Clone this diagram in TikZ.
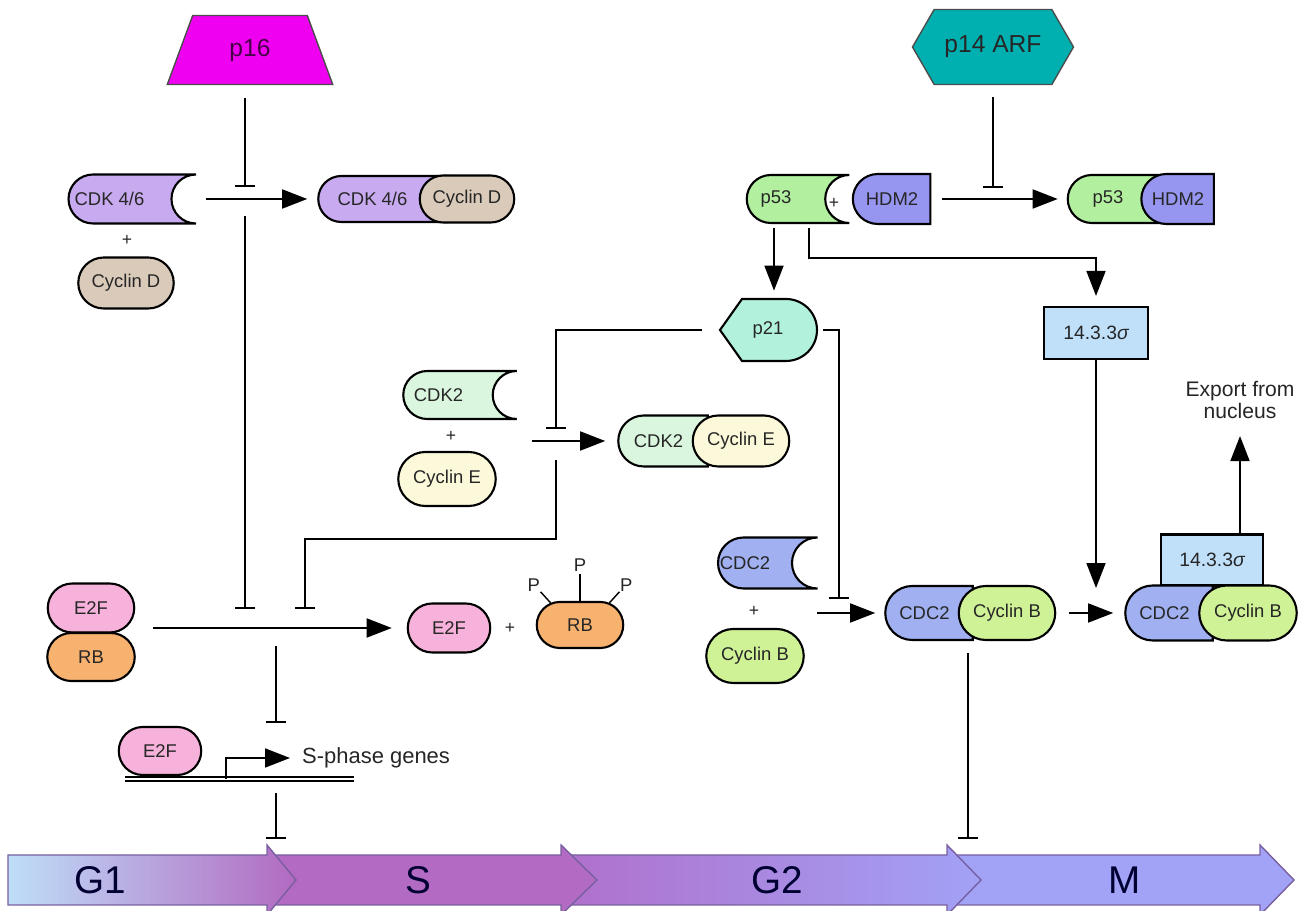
\documentclass[tikz,border=0pt]{standalone}
\usepackage{fontspec}
\setmainfont{Liberation Sans}
\usetikzlibrary{shapes.misc,shapes.geometric,shapes.symbols,arrows.meta}

\definecolor{cdkpurple}{RGB}{200,170,240}
\definecolor{cyclind}{RGB}{218,202,186}
\definecolor{p53green}{RGB}{178,240,160}
\definecolor{hdmblue}{RGB}{150,150,240}
\definecolor{p21mint}{RGB}{178,242,220}
\definecolor{sigmablue}{RGB}{192,224,250}
\definecolor{cdk2green}{RGB}{218,246,222}
\definecolor{cycecream}{RGB}{252,248,218}
\definecolor{cdc2blue}{RGB}{160,176,240}
\definecolor{cycbgreen}{RGB}{208,242,150}
\definecolor{e2fpink}{RGB}{246,178,218}
\definecolor{rborange}{RGB}{248,178,112}
\definecolor{p16magenta}{RGB}{240,0,240}
\definecolor{arfteal}{RGB}{0,176,176}
\definecolor{g1blue}{RGB}{190,222,248}
\definecolor{sviolet}{RGB}{178,106,194}
\definecolor{g2violet}{RGB}{176,112,204}
\definecolor{mblue}{RGB}{162,162,246}
\definecolor{phaseline}{RGB}{120,96,160}

\begin{document}
\begin{tikzpicture}[x=0.02cm, y=-0.02cm, font=\fontsize{10.5}{12}\selectfont, text=black!85]
  \tikzstyle{prot}=[draw=black, line width=1.2pt, rounded rectangle, inner sep=1pt]
  \tikzstyle{openprot}=[prot, rounded rectangle right arc=concave]
  \tikzstyle{halfprot}=[prot, rounded rectangle right arc=none]
  \tikzstyle{box}=[draw=black, line width=1.2pt, fill=sigmablue, minimum width=2.08cm, minimum height=1.04cm, font=\fontsize{11}{13}\selectfont]
  \tikzstyle{act}=[line width=1pt, -{Triangle[length=0.5cm, width=0.38cm]}]
  \tikzstyle{inhib}=[line width=1pt, -{Bar[width=0.4cm]}]
  \tikzstyle{plus}=[font=\fontsize{10}{12}\selectfont, inner sep=0pt]
  \tikzstyle{phase}=[draw=phaseline, line width=0.8pt]
  \tikzstyle{phasetext}=[font=\fontsize{22}{26}\selectfont, text=black!80!blue]

  \useasboundingbox (0,0) rectangle (1309,911);

  % cell cycle phases
  \path[phase, fill=mblue] (947,855) -- (1260,855) -- (1260,845) -- (1294,880) -- (1260,915) -- (1260,905) -- (947,905) -- cycle;
  \path[phase, left color=g2violet, right color=mblue] (561,855) -- (947,855) -- (947,845) -- (981,880) -- (947,915) -- (947,905) -- (561,905) -- cycle;
  \path[phase, fill=sviolet] (267,855) -- (561,855) -- (561,845) -- (597,880) -- (561,915) -- (561,905) -- (267,905) -- cycle;
  \path[phase, left color=g1blue, right color=sviolet] (8,855) -- (267,855) -- (267,845) -- (296,880) -- (267,915) -- (267,905) -- (8,905) -- cycle;
  \node[phasetext] (g1) at (100,880) {G1};
  \node[phasetext] (s) at (418,880) {S};
  \node[phasetext] (g2) at (777,880) {G2};
  \node[phasetext] (m) at (1125,880) {M};

  % inhibitors on top
  \node[trapezium, trapezium left angle=71, trapezium right angle=71, trapezium stretches=true,
        minimum width=3.32cm, minimum height=1.38cm, fill=p16magenta, draw=black!70, line width=0.8pt,
        font=\fontsize{14}{16}\selectfont, text=black!70!p16magenta] (p16) at (250,50) {p16};
  \node[signal, signal to=east and west, signal pointer angle=120, minimum width=3.22cm, minimum height=1.5cm,
        fill=arfteal, draw=black!70, line width=0.8pt, font=\fontsize{14}{16}\selectfont] (p14) at (993,47) {p14 ARF};

  % CDK4/6 + Cyclin D
  \node[openprot, fill=cdkpurple, minimum width=2.62cm, minimum height=0.98cm, label={[xshift=-0.21cm]center:CDK 4/6}] (cdk46) at (120,199) {};
  \node[plus] (plus1) at (127,240) {+};
  \node[prot, fill=cyclind, minimum width=1.98cm, minimum height=1.02cm] (cycd) at (126,283) {Cyclin D};
  \node[halfprot, fill=cdkpurple, minimum width=2.66cm, minimum height=0.92cm, label={[xshift=-0.21cm]center:CDK 4/6}] (cdkA) at (383,199) {};
  \node[prot, fill=cyclind, minimum width=1.96cm, minimum height=0.94cm] (cycdB) at (467,199) {Cyclin D};

  % p53 + HDM2
  \node[openprot, fill=p53green, minimum width=2.12cm, minimum height=0.96cm, label={[xshift=-0.2cm]center:p53}] (p53) at (786,199) {};
  \node[plus] (plus2) at (834,203) {+};
  \node[halfprot, fill=hdmblue, minimum width=1.62cm, minimum height=1.0cm] (hdm2) at (892,199) {HDM2};
  \node[halfprot, fill=p53green, minimum width=1.88cm, minimum height=0.96cm, label={[xshift=-0.1cm]center:p53}] (p53c) at (1113,199) {};
  \node[halfprot, fill=hdmblue, minimum width=1.52cm, minimum height=1.0cm] (hdm2c) at (1178,199) {HDM2};

  % p21 and 14.3.3 sigma
  \path[draw=black, line width=1.2pt, fill=p21mint] (720,330) -- (742,299) -- (786,299)
       arc[start angle=90, end angle=-90, radius=0.62cm] -- (742,361) -- cycle;
  \node[minimum width=1.94cm, minimum height=1.24cm, inner sep=0pt] (p21) at (768,330) {p21};
  \node[box] (box1) at (1096,333) {14.3.3{\itshape σ}};
  \node[align=center, inner sep=0pt, font=\fontsize{12}{12.5}\selectfont] (export) at (1240,400) {Export from\\nucleus};

  % CDK2 + Cyclin E
  \node[openprot, fill=cdk2green, minimum width=2.34cm, minimum height=0.96cm, label={[xshift=-0.19cm]center:CDK2}] (cdk2) at (448,395) {};
  \node[plus] (plus3) at (451,436) {+};
  \node[prot, fill=cycecream, minimum width=2.02cm, minimum height=1.08cm] (cyce) at (447,479) {Cyclin E};
  \node[halfprot, fill=cdk2green, minimum width=1.86cm, minimum height=1.02cm, label={[xshift=-0.09cm]center:CDK2}] (cdk2c) at (663,441) {};
  \node[prot, fill=cycecream, minimum width=2.0cm, minimum height=1.02cm] (cycec) at (741,441) {Cyclin E};

  % CDC2 + Cyclin B
  \node[openprot, fill=cdc2blue, minimum width=2.06cm, minimum height=1.02cm, label={[xshift=-0.2cm]center:CDC2}] (cdc2) at (755,563) {};
  \node[plus] (plus4) at (754,611) {+};
  \node[prot, fill=cycbgreen, minimum width=2.02cm, minimum height=1.08cm] (cycb) at (755,656) {Cyclin B};
  \node[halfprot, fill=cdc2blue, minimum width=1.82cm, minimum height=1.08cm, label={[xshift=-0.09cm]center:CDC2}] (cdc2c) at (929,613) {};
  \node[prot, fill=cycbgreen, minimum width=2.0cm, minimum height=1.08cm] (cycbc) at (1007,613) {Cyclin B};
  \node[box, minimum width=2.04cm, minimum height=1.02cm] (box2) at (1212,560) {14.3.3{\itshape σ}};
  \node[halfprot, fill=cdc2blue, minimum width=1.82cm, minimum height=1.1cm, label={[xshift=-0.09cm]center:CDC2}] (cdc2d) at (1169,613) {};
  \node[prot, fill=cycbgreen, minimum width=2.02cm, minimum height=1.1cm] (cycbd) at (1248,613) {Cyclin B};

  % E2F / RB
  \node[prot, fill=e2fpink, minimum width=1.8cm, minimum height=0.98cm] (e2fa) at (91,608) {E2F};
  \node[prot, fill=rborange, minimum width=1.82cm, minimum height=0.96cm] (rba) at (91,657) {RB};
  \node[prot, fill=e2fpink, minimum width=1.72cm, minimum height=0.98cm] (e2fb) at (449,628) {E2F};
  \node[plus] (plus5) at (510,628) {+};
  \node[prot, fill=rborange, minimum width=1.8cm, minimum height=0.92cm] (rbp) at (580,625) {RB};
  \draw[line width=0.8pt] (rbp.north) -- ++(0,-27) node[above, inner sep=1pt] (pmid) {P};
  \draw[line width=0.8pt] (rbp.143) -- ++(-10,-11) node[above left, inner sep=0pt] (pleft) {P};
  \draw[line width=0.8pt] (rbp.37) -- ++(10,-11) node[above right, inner sep=0pt] (pright) {P};

  % DNA with E2F
  \coordinate (dnaL) at (125,779);
  \coordinate (dnaR) at (354,779);
  \coordinate (prom) at (226,779);
  \draw[double, double distance=0.05cm, line width=0.8pt] (dnaL) -- (dnaR);
  \node[prot, fill=e2fpink, minimum width=1.72cm, minimum height=0.96cm] (e2fc) at (160,751) {E2F};
  \node[anchor=west, font=\fontsize{12.5}{14}\selectfont] (sgenes) at (296,758) {S-phase genes};

  % junctions
  \coordinate (j1) at (245,199);
  \coordinate (t1) at (245,609);
  \coordinate (t2) at (305,609);
  \coordinate (j3) at (556,441);
  \coordinate (t3) at (276,723);
  \coordinate (t4) at (276,839);
  \coordinate (j4) at (993,199);
  \coordinate (j5) at (839,613);
  \coordinate (t5) at (968,839);
  \coordinate (j6) at (1096,613);

  % G1 side
  \draw[act, shorten <=0.2cm, shorten >=0.2cm] (cdk46.east) -- (cdkA.west);
  \draw[inhib, shorten <=0.26cm] (p16.south -| j1) -- ([yshift=0.24cm]j1);
  \draw[inhib, shorten <=0.34cm] (j1) -- (t1);
  \draw[act, shorten <=0.36cm, shorten >=0.3cm] (e2fa.east |- e2fb.west) -- (e2fb.west);
  \draw[inhib] ([xshift=-0.34cm]p21.west) -| ([yshift=0.24cm]j3);
  \draw[act, shorten <=0.3cm, shorten >=0.24cm] (cdk2.east |- cdk2c.west) -- (cdk2c.west);
  \draw[inhib, shorten <=0.38cm] (j3) |- ([yshift=1.4cm]t2) -- (t2);
  \draw[inhib, shorten <=0.36cm] (t3 |- e2fb.west) -- (t3);
  \draw[act, shorten >=0.12cm] (prom) |- (sgenes.west);
  \draw[inhib, shorten <=0.28cm] (t4 |- dnaL) -- (t4);

  % G2 side
  \coordinate (p53d) at ([xshift=-0.24cm]p53.south);
  \coordinate (p53e) at ([xshift=0.46cm]p53.south);
  \draw[inhib, shorten <=0.24cm] (p14.south -| j4) -- ([yshift=0.22cm]j4);
  \draw[act, shorten <=0.22cm, shorten >=0.18cm] (hdm2.east) -- (p53c.west);
  \draw[act, shorten <=0.08cm, shorten >=0.16cm] (p53d) -- (p53d |- p21.north);
  \draw[act, shorten <=0.08cm, shorten >=0.2cm] (p53e) -- ++(0,34) -| (box1.north);
  \draw[inhib] ([xshift=0.12cm]p21.east) -| ([yshift=0.28cm]j5);
  \draw[act, shorten >=0.18cm] (cdc2.east |- cdc2c.west) -- (cdc2c.west);
  \draw[inhib, shorten <=0.24cm] (t5 |- cycbc.south) -- (t5);
  \draw[act, shorten <=0.26cm, shorten >=0.22cm] (cycbc.east) -- (cdc2d.west);
  \draw[act] (box1.south) -- ([yshift=0.5cm]j6);
  \draw[act] (export.south |- box2.north) -- ([yshift=-0.34cm]export.south);
\end{tikzpicture}
\end{document}
